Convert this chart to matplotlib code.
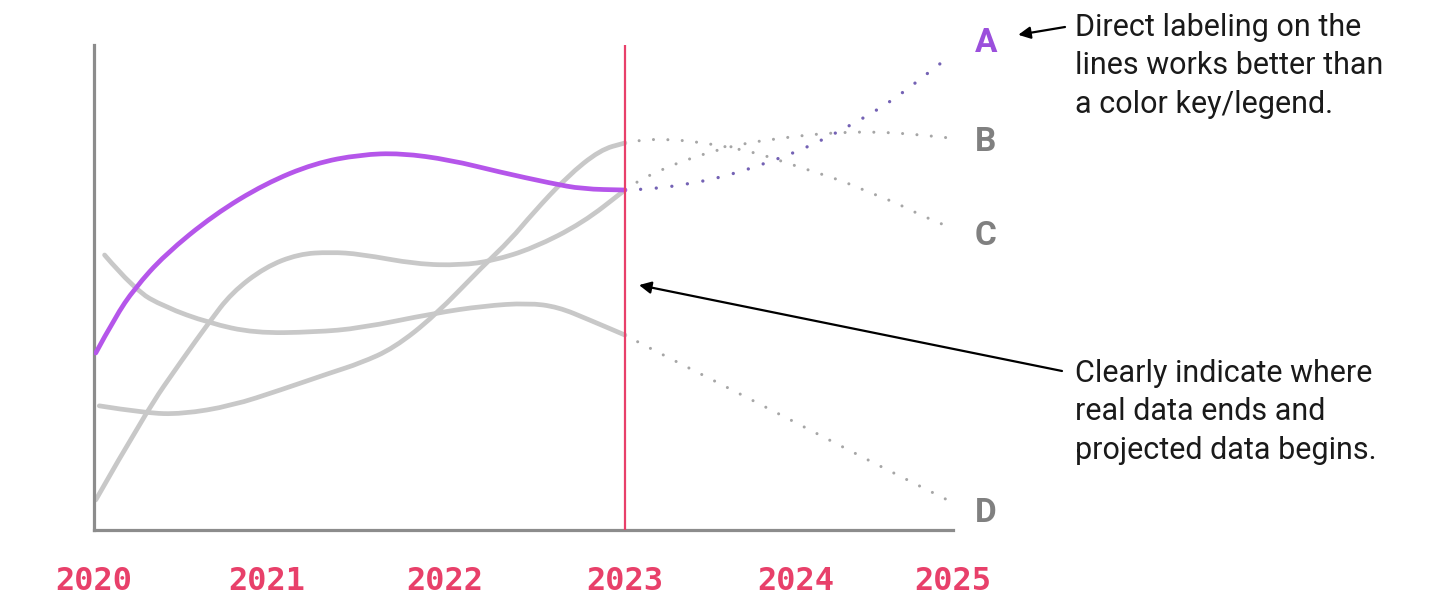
import matplotlib
matplotlib.use("Agg")
import matplotlib.pyplot as plt
from matplotlib.path import Path
from matplotlib.patches import PathPatch

a_x = [2020.0, 2020.11, 2020.22, 2020.39, 2020.67, 2020.96, 2021.24, 2021.5, 2021.73,
       2022.01, 2022.29, 2022.58, 2022.76, 2023.0]
a_y = [36.5, 43.9, 49.8, 56.7, 65.0, 71.4, 75.6, 77.4, 77.7, 76.3, 73.8, 71.5, 70.3, 70.1]

d_x = [2020.05, 2020.22, 2020.39, 2020.64, 2020.9, 2021.24, 2021.5, 2021.92, 2022.2,
       2022.45, 2022.62, 2022.8, 2023.0]
d_y = [56.7, 49.5, 46.0, 42.7, 40.6, 40.8, 41.6, 44.7, 46.2, 46.8, 46.0, 43.3, 40.2]

b_x = [2020.0, 2020.28, 2020.49, 2020.64, 2020.77, 2020.96, 2021.15, 2021.33, 2021.5,
       2021.82, 2022.07, 2022.25, 2022.48, 2022.76, 2023.0]
b_y = [6.2, 24.1, 35.1, 42.7, 48.9, 54.2, 56.9, 57.3, 56.9, 54.8, 54.6, 55.5, 58.1, 63.3, 70.1]

c_x = [2020.02, 2020.28, 2020.49, 2020.77, 2021.05, 2021.33, 2021.5, 2021.69, 2021.92,
       2022.2, 2022.35, 2022.48, 2022.67, 2022.86, 2023.0]
c_y = [25.6, 24.1, 23.9, 25.6, 28.9, 32.4, 34.4, 37.5, 44.1, 54.6, 59.8, 65.4, 72.8, 78.4, 79.8]

# projected data, 2023 -> 2025
pa_x = [2023.0, 2023.08, 2023.33, 2023.58, 2023.82, 2023.98, 2024.14, 2024.29, 2024.44,
        2024.58, 2024.71, 2024.85]
pa_y = [70.1, 70.1, 71.1, 73.0, 75.9, 78.1, 80.8, 83.7, 86.8, 90.3, 94.0, 97.9]

pb_x = [2023.0, 2023.05, 2023.2, 2023.36, 2023.53, 2023.69, 2023.85, 2024.02, 2024.19,
        2024.36, 2024.53, 2024.69, 2024.85]
pb_y = [70.1, 71.5, 74.2, 76.5, 78.4, 79.8, 80.6, 81.4, 81.9, 82.1, 81.9, 81.4, 80.8]

pc_x = [2023.0, 2023.07, 2023.24, 2023.41, 2023.58, 2023.75, 2023.9, 2024.06, 2024.23,
        2024.38, 2024.54, 2024.69, 2024.85]
pc_y = [79.8, 80.4, 80.6, 80.0, 79.0, 77.7, 75.9, 74.0, 72.0, 69.7, 67.4, 64.7, 62.3]

pd_x = [2023.0, 2023.07, 2023.51, 2023.95, 2024.4, 2024.85]
pd_y = [40.2, 38.8, 30.7, 22.5, 14.0, 5.8]

series_names = ["A", "B", "C", "D"]
label_y = [100.4, 80.0, 60.6, 3.5]

year_ticks = [2019.99, 2020.97, 2021.98, 2023.0, 2023.97, 2024.86]
year_labels = ["2020", "2021", "2022", "2023", "2024", "2025"]

PURPLE = "#b556ea"
PURPLE_DOT = "#7462b4"
GREY = "#c8c8c8"
GREY_DOT = "#a6a6a6"
RED = "#e8406a"
LABEL_GREY = "#808080"


def smooth_path(xs, ys):
    # quadratic curve through the midpoints, read points used as control points
    verts = [(xs[0], ys[0])]
    codes = [Path.MOVETO]
    for i in range(1, len(xs) - 1):
        verts += [(xs[i], ys[i]), ((xs[i] + xs[i + 1]) / 2, (ys[i] + ys[i + 1]) / 2)]
        codes += [Path.CURVE3, Path.CURVE3]
    verts.append((xs[-1], ys[-1]))
    codes.append(Path.LINETO)
    return Path(verts, codes)


fig = plt.figure(figsize=(14.34, 5.98), dpi=100)
ax = fig.add_axes([94 / 1434, 68 / 598, 859 / 1434, 485 / 598])

dots = (0, (0.01, 4.7))
for px, py in [(pb_x, pb_y), (pc_x, pc_y), (pd_x, pd_y)]:
    p = PathPatch(smooth_path(px, py), fill=False, edgecolor=GREY_DOT, lw=2.2,
                  linestyle=dots, capstyle="round", zorder=2)
    ax.add_patch(p)
p = PathPatch(smooth_path(pa_x, pa_y), fill=False, edgecolor=PURPLE_DOT, lw=2.4,
              linestyle=dots, capstyle="round", zorder=3)
ax.add_patch(p)

for px, py in [(d_x, d_y), (b_x, b_y), (c_x, c_y)]:
    ax.add_patch(PathPatch(smooth_path(px, py), fill=False, edgecolor=GREY, lw=3.4,
                           capstyle="round", zorder=2))
ax.add_patch(PathPatch(smooth_path(a_x, a_y), fill=False, edgecolor=PURPLE, lw=3.4,
                       capstyle="round", zorder=3))

ax.axvline(2023, color=RED, lw=1.6, zorder=4)

ax.set_xlim(2020, 2024.853)
ax.set_ylim(0, 100)
for s in ["top", "right"]:
    ax.spines[s].set_visible(False)
for s in ["left", "bottom"]:
    ax.spines[s].set_color("#8c8c8c")
    ax.spines[s].set_linewidth(2.3)
ax.set_yticks([])
ax.set_xticks(year_ticks)
ax.set_xticklabels(year_labels)
ax.tick_params(axis="x", length=0, pad=26, labelsize=23, labelcolor=RED)
for t in ax.get_xticklabels():
    t.set_fontweight("bold")
    t.set_fontfamily("DejaVu Sans Mono")

for name, yv in zip(series_names, label_y):
    ax.text(2025.045, yv, name, ha="center", va="center", fontsize=24,
            fontweight="bold", family="Roboto",
            color=("#9b4fdc" if name == "A" else LABEL_GREY), clip_on=False)

note_font = dict(family="Roboto", fontsize=22, color="#1a1a1a", linespacing=1.42,
                 ha="left", va="center")
fig.text(1075 / 1434, 1 - 66 / 598,
         "Direct labeling on the\nlines works better than\na color key/legend.", **note_font)
fig.text(1075 / 1434, 1 - 412 / 598,
         "Clearly indicate where\nreal data ends and\nprojected data begins.", **note_font)

arrow = dict(arrowstyle="-|>", color="black", lw=1.6, mutation_scale=18, shrinkA=0, shrinkB=0)
ax.annotate("", xy=(2025.23, 102.1), xycoords="data", annotation_clip=False,
            xytext=(1065, 598 - 27), textcoords="figure pixels", arrowprops=arrow)
ax.annotate("", xy=(2023.08, 50.5), xycoords="data", annotation_clip=False,
            xytext=(1062, 598 - 371), textcoords="figure pixels", arrowprops=arrow)

fig.savefig("out.png", dpi=100)
